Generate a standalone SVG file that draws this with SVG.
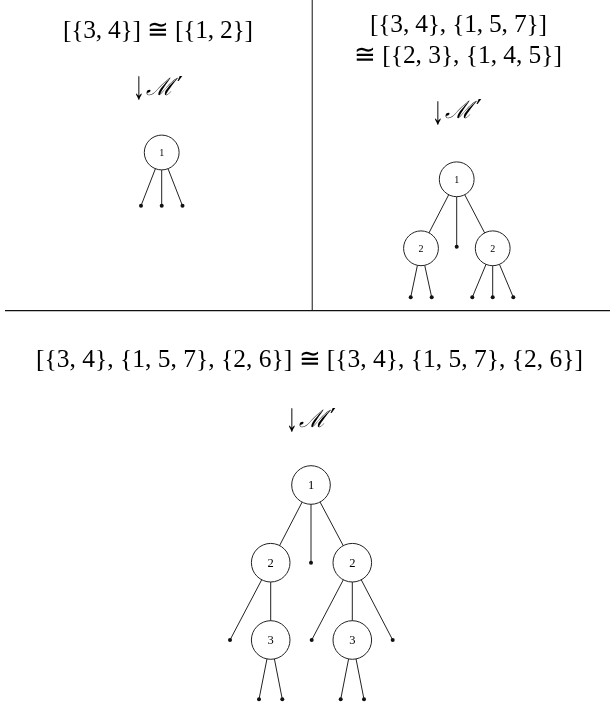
<svg xmlns="http://www.w3.org/2000/svg" width="610" height="721" viewBox="0 0 610 721">
<style>
.math{font-family:"Liberation Serif","DejaVu Serif",serif;font-size:25.5px;fill:#000}
.arr{font-family:"Liberation Serif","DejaVu Serif",serif;font-size:26px;fill:#000}
.cal{font-family:"DejaVu Serif","Liberation Serif",serif;font-style:italic;font-size:24px;fill:#000}
.pr{font-family:"DejaVu Sans","Liberation Serif",serif;font-size:26px;fill:#000}
.lbl{font-family:"Liberation Serif",serif;text-anchor:middle;fill:#000}
.s{font-size:10px}
.b{font-size:12.5px}
circle.n{fill:#fff;stroke:#222;stroke-width:1}
circle.d{fill:#111;stroke:none}
.e line{stroke:#222;stroke-width:1}
.gs{filter:grayscale(1)}
</style>
<rect width="610" height="721" fill="#fff"/>
<g id="dividers">
<line x1="312.3" y1="0" x2="312.3" y2="310.7" stroke="#555" stroke-width="1.4"/>
<line x1="5" y1="310.7" x2="610" y2="310.7" stroke="#111" stroke-width="1.2"/>
</g>
<g id="texts" class="gs">
<text class="math" x="63" y="38" textLength="190" lengthAdjust="spacing">[{3, 4}] ≅ [{1, 2}]</text>
<text class="math" x="370" y="32" textLength="177" lengthAdjust="spacing">[{3, 4}, {1, 5, 7}]</text>
<text class="math" x="354" y="63" textLength="208" lengthAdjust="spacing">≅ [{2, 3}, {1, 4, 5}]</text>
<text class="math" x="36" y="367" textLength="547" lengthAdjust="spacing">[{3, 4}, {1, 5, 7}, {2, 6}] ≅ [{3, 4}, {1, 5, 7}, {2, 6}]</text>
</g>
<g id="label-top-left" class="gs">
<text class="arr" transform="translate(133,99) scale(0.9,1.55)">↓</text>
<text class="cal" x="146" y="95">ℳ</text>
<text class="pr" x="177" y="96">′</text>
</g>
<g id="label-top-right" class="gs">
<text class="arr" transform="translate(432,124) scale(0.9,1.55)">↓</text>
<text class="cal" x="445" y="118">ℳ</text>
<text class="pr" x="476" y="119">′</text>
</g>
<g id="label-bottom" class="gs">
<text class="arr" transform="translate(286,431) scale(0.9,1.55)">↓</text>
<text class="cal" x="299" y="427">ℳ</text>
<text class="pr" x="330" y="428">′</text>
</g>
<g id="connectors" class="e">
<line x1="161.7" y1="152.5" x2="141" y2="205.8"/>
<line x1="161.7" y1="152.5" x2="161.7" y2="205.8"/>
<line x1="161.7" y1="152.5" x2="182.5" y2="205.8"/>
<line x1="456.7" y1="179.3" x2="421" y2="248.3"/>
<line x1="456.7" y1="179.3" x2="456.7" y2="246.7"/>
<line x1="456.7" y1="179.3" x2="492.7" y2="248.3"/>
<line x1="421" y1="248.3" x2="410.7" y2="297.3"/>
<line x1="421" y1="248.3" x2="431.7" y2="297.3"/>
<line x1="492.7" y1="248.3" x2="472.3" y2="297.3"/>
<line x1="492.7" y1="248.3" x2="492.7" y2="297.3"/>
<line x1="492.7" y1="248.3" x2="513.3" y2="297.3"/>
<line x1="311" y1="485" x2="270.7" y2="562.7"/>
<line x1="311" y1="485" x2="311" y2="562.7"/>
<line x1="311" y1="485" x2="352.3" y2="562.7"/>
<line x1="270.7" y1="562.7" x2="230" y2="640"/>
<line x1="270.7" y1="562.7" x2="270.7" y2="640"/>
<line x1="352.3" y1="562.7" x2="311.7" y2="640"/>
<line x1="352.3" y1="562.7" x2="352.3" y2="640"/>
<line x1="352.3" y1="562.7" x2="392.7" y2="640"/>
<line x1="270.7" y1="640" x2="259" y2="699.3"/>
<line x1="270.7" y1="640" x2="282.3" y2="699.3"/>
<line x1="352.3" y1="640" x2="340.7" y2="699.3"/>
<line x1="352.3" y1="640" x2="364" y2="699.3"/>
</g>
<g id="tree-top-left" class="gs">
<g id="tl-n1"><circle class="n" cx="161.7" cy="152.5" r="17.4"/><text class="lbl s" x="161.7" y="156">1</text></g>
<g id="tl-leaves"><circle class="d" cx="141" cy="205.8" r="2"/><circle class="d" cx="161.7" cy="205.8" r="2"/><circle class="d" cx="182.5" cy="205.8" r="2"/></g>
</g>
<g id="tree-top-right" class="gs">
<g id="tr-n1"><circle class="n" cx="456.7" cy="179.3" r="17.4"/><text class="lbl s" x="456.7" y="182.8">1</text></g>
<g id="tr-n2a"><circle class="n" cx="421" cy="248.3" r="17.4"/><text class="lbl s" x="421" y="251.8">2</text></g>
<g id="tr-n2b"><circle class="n" cx="492.7" cy="248.3" r="17.4"/><text class="lbl s" x="492.7" y="251.8">2</text></g>
<g id="tr-leaves"><circle class="d" cx="456.7" cy="246.7" r="2"/><circle class="d" cx="410.7" cy="297.3" r="2"/><circle class="d" cx="431.7" cy="297.3" r="2"/><circle class="d" cx="472.3" cy="297.3" r="2"/><circle class="d" cx="492.7" cy="297.3" r="2"/><circle class="d" cx="513.3" cy="297.3" r="2"/></g>
</g>
<g id="tree-bottom" class="gs">
<g id="b-n1"><circle class="n" cx="311" cy="485" r="19.3"/><text class="lbl b" x="311" y="489.3">1</text></g>
<g id="b-n2a"><circle class="n" cx="270.7" cy="562.7" r="19.3"/><text class="lbl b" x="270.7" y="567">2</text></g>
<g id="b-n2b"><circle class="n" cx="352.3" cy="562.7" r="19.3"/><text class="lbl b" x="352.3" y="567">2</text></g>
<g id="b-n3a"><circle class="n" cx="270.7" cy="640" r="19.3"/><text class="lbl b" x="270.7" y="644.3">3</text></g>
<g id="b-n3b"><circle class="n" cx="352.3" cy="640" r="19.3"/><text class="lbl b" x="352.3" y="644.3">3</text></g>
<g id="b-leaves"><circle class="d" cx="311" cy="562.7" r="2"/><circle class="d" cx="230" cy="640" r="2"/><circle class="d" cx="311.7" cy="640" r="2"/><circle class="d" cx="392.7" cy="640" r="2"/><circle class="d" cx="259" cy="699.3" r="2"/><circle class="d" cx="282.3" cy="699.3" r="2"/><circle class="d" cx="340.7" cy="699.3" r="2"/><circle class="d" cx="364" cy="699.3" r="2"/></g>
</g>
</svg>
